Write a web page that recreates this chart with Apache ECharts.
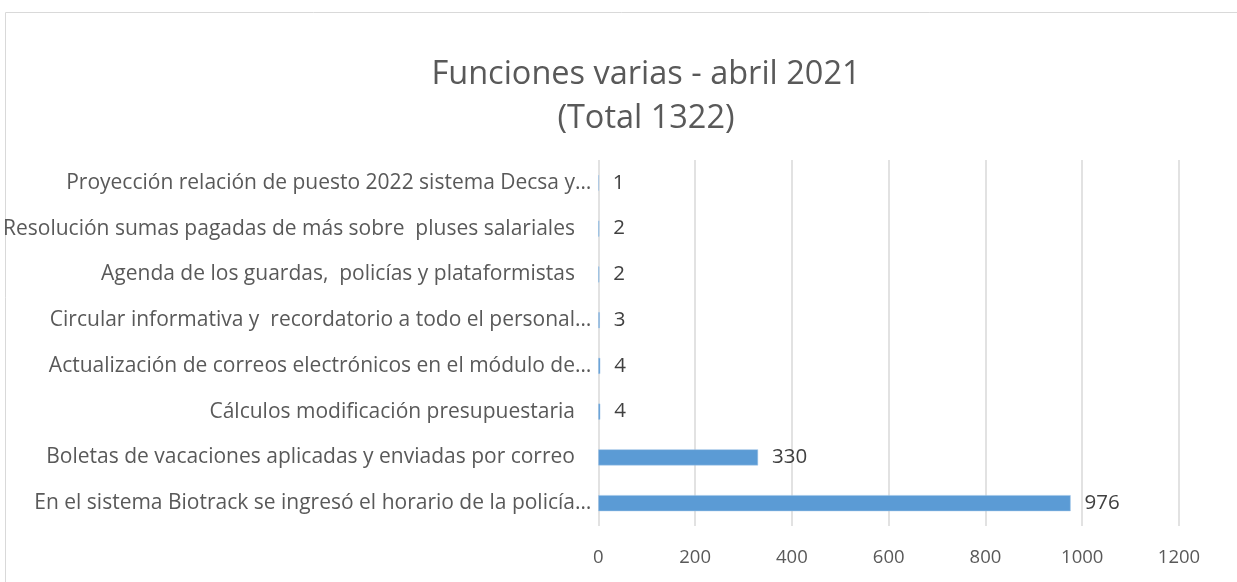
<!DOCTYPE html>
<html>
<head>
<meta charset="utf-8">
<script src="https://cdn.jsdelivr.net/npm/echarts@6/dist/echarts.min.js"></script>
<style>
    html, body { margin: 0; padding: 0; background: #fff; }
    #chart { width: 1237px; height: 582px; }
</style>
</head>
<body>
<div id="chart"></div>
<script>
    // categorias de arriba hacia abajo, como se ven en el grafico
    // (las que no estan cortadas traen espacios al final en el original)
    var categories = [
        'Proyección relación de puesto 2022 sistema Decsa y…',
        'Resolución sumas pagadas de más sobre  pluses salariales   ',
        'Agenda de los guardas,  policías y plataformistas   ',
        'Circular informativa y  recordatorio a todo el personal…',
        'Actualización de correos electrónicos en el módulo de…',
        'Cálculos modificación presupuestaria   ',
        'Boletas de vacaciones aplicadas y enviadas por correo   ',
        'En el sistema Biotrack se ingresó el horario de la policía…'
    ];
    var values = [1, 2, 2, 3, 4, 4, 330, 976];
    var titleLines = ['Funciones varias - abril 2021', '(Total 1322)'];

    var chart = echarts.init(document.getElementById('chart'));

    var font = '"Open Sans", Lato, sans-serif';

    var option = {
        animation: false,
        title: {
            text: titleLines.join('\n'),
            left: 641,
            textAlign: 'center',
            top: 48,
            textStyle: {
                fontFamily: font,
                fontSize: 32.5,
                fontWeight: 'normal',
                color: '#595959',
                lineHeight: 44
            }
        },
        graphic: [{
            type: 'rect',
            shape: { x: 5.5, y: 12.5, width: 1260, height: 620 },
            style: { fill: 'none', stroke: '#d9d9d9', lineWidth: 1 },
            silent: true
        }],
        grid: {
            left: 597,
            right: 58,
            top: 160,
            bottom: 56
        },
        xAxis: {
            type: 'value',
            min: 0,
            max: 1200,
            interval: 200,
            axisLine: { show: false },
            axisTick: { show: false },
            axisLabel: {
                fontFamily: font,
                fontSize: 18.5,
                color: '#595959',
                margin: 22,
                formatter: function (v) { return String(v); }
            },
            splitLine: { lineStyle: { color: '#d9d9d9', width: 1.5 } }
        },
        yAxis: {
            type: 'category',
            data: categories,
            inverse: true,
            axisLine: { show: false },
            axisTick: { show: false },
            axisLabel: {
                fontFamily: font,
                fontSize: 21,
                color: '#595959',
                margin: 7
            }
        },
        series: [{
            type: 'bar',
            data: values,
            barWidth: 16,
            itemStyle: {
                color: '#5b9bd5',
                borderColor: '#9dc3e6',
                borderWidth: 0.5
            },
            label: {
                show: true,
                position: 'right',
                distance: 14,
                fontFamily: font,
                fontSize: 20.5,
                color: '#404040'
            }
        }]
    };
    chart.setOption(option);
</script>
</body>
</html>
